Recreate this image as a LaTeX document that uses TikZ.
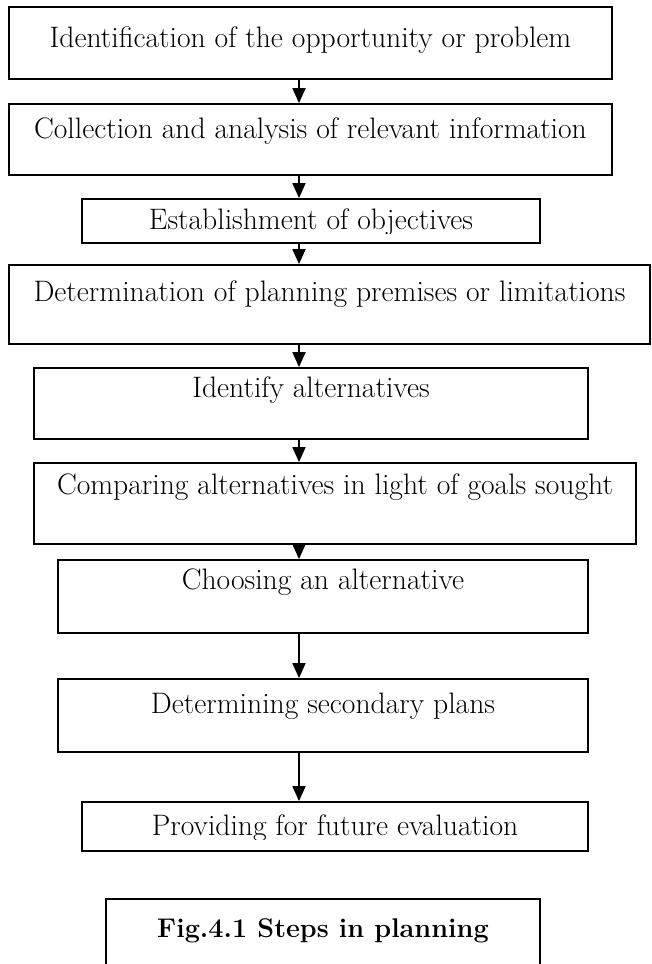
\documentclass[tikz,border=0pt]{standalone}
\usetikzlibrary{arrows.meta}

\begin{document}
\begin{tikzpicture}[
				x=1pt, y=-1pt,
				stepbox/.style={draw, line width=1.8pt, rectangle, inner sep=0pt},
				steptext/.style={font=\fontsize{29.6}{34}\selectfont, anchor=base, inner sep=0pt},
				flow/.style={line width=1.8pt, -{Triangle[length=15pt,width=13pt]}}
				]
				
				\useasboundingbox (0,0) rectangle (651,964);
				
				% Boxes
				\node[stepbox, minimum width=603pt, minimum height=72pt] (ident) at (310.5,43) {};
				\node[stepbox, minimum width=603pt, minimum height=71pt] (collect) at (310.5,139.5) {};
				\node[stepbox, minimum width=458pt, minimum height=44pt] (objectives) at (311,221) {};
				\node[stepbox, minimum width=641pt, minimum height=79pt] (premises) at (329.5,304.5) {};
				\node[stepbox, minimum width=554pt, minimum height=71pt] (alternatives) at (311,403.5) {};
				\node[stepbox, minimum width=602pt, minimum height=81pt] (compare) at (335,503.5) {};
				\node[stepbox, minimum width=530pt, minimum height=73pt] (choose) at (323,596.5) {};
				\node[stepbox, minimum width=530pt, minimum height=73pt] (secondary) at (323,715.5) {};
				\node[stepbox, minimum width=506pt, minimum height=49pt] (evaluate) at (335,826.5) {};
				\node[stepbox, minimum width=434pt, minimum height=81pt] (caption) at (323,939.5) {};
				
				% Texts
				\node[steptext] (ident-txt) at (310.5,47) {Identification of the opportunity or problem};
				\node[steptext] (collect-txt) at (310.5,138) {Collection and analysis of relevant information};
				\begin{scope}
					\clip (82,199) rectangle (540,233);
					\node[steptext] (objectives-txt) at (311,229) {Establishment of objectives};
				\end{scope}
				\node[steptext] (premises-txt) at (329.5,301) {Determination of planning premises or limitations};
				\node[steptext] (alternatives-txt) at (311,397) {Identify alternatives};
				\node[steptext] (compare-txt) at (335,494) {Comparing alternatives in light of goals sought};
				\node[steptext] (choose-txt) at (323,589) {Choosing an alternative};
				\node[steptext] (secondary-txt) at (323,713) {Determining secondary plans};
				\begin{scope}
					\clip (82,802) rectangle (588,839);
					\node[steptext] (evaluate-txt) at (335,835) {Providing for future evaluation};
				\end{scope}
				\node[steptext, font=\fontsize{27}{32}\selectfont\bfseries] (caption-txt) at (323,937) {Fig.4.1 Steps in planning};
				
				% Arrows
				\coordinate (axis) at (299,0);
				\foreach \a/\b in {ident/collect, collect/objectives, objectives/premises,
					premises/alternatives, alternatives/compare, compare/choose,
					choose/secondary, secondary/evaluate}
				{
					\draw[flow] (\a.south -| axis) -- (\b.north -| axis);
				}
				
			\end{tikzpicture}
\end{document}
